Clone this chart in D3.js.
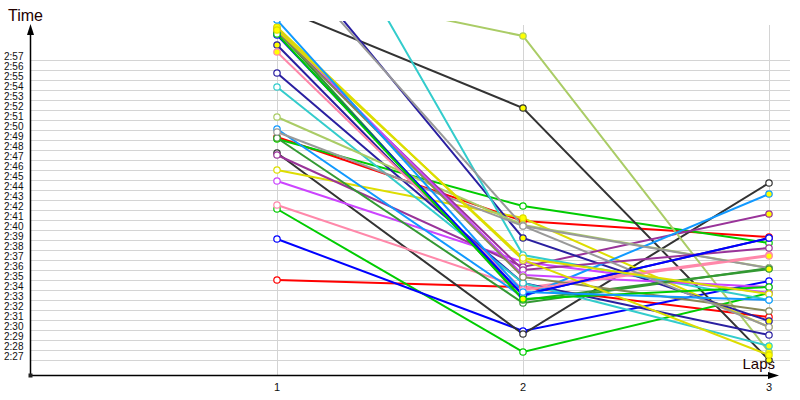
<!DOCTYPE html>
<html>
<head>
<meta charset="utf-8">
<script src="https://cdn.jsdelivr.net/npm/d3@7"></script>
<style>
  body { margin: 0; background: #fff; }
  svg { display: block; }
</style>
</head>
<body>
<svg id="chart" width="800" height="400"></svg>
<script>
// lap numbers on the x axis
const laps = [1, 2, 3];

// y tick labels, seconds (2:27 .. 2:57)
const tickSeconds = d3.range(147, 178);

// one colour per rider
const riderColors = [
    "#ff0000", "#ff0000", "#00cc00", "#00cc00", "#0000ff", "#333333", "#333333", "#cc44ff",
    "#ff88aa", "#dddd00", "#993399", "#339933", "#aacc66", "#2a1fa0", "#2a1fa0", "#33cccc",
    "#33cccc", "#aacc66", "#1199ff", "#999999", "#993399", "#cc44ff", "#339933", "#888855",
    "#2a1fa0", "#ff88aa", "#999999", "#dddd00", "#0000ff", "#00cc00", "#dddd00", "#1199ff"
];

// lap times in seconds, one value per rider
const lap1 = [155.0, 169.3, 162.1, 169.1, 159.1, 167.7, 182.3, 164.9,
              162.5, 166.0, 167.5, 169.2, 184.5, 189.0, 175.7, 174.3,
              200.3, 171.3, 170.1, 169.8, 179.8, 180.2, 180.0, 179.9,
              178.5, 177.8, 188.0, 180.3, 179.5, 179.6, 180.0, 181.0];
const lap2 = [154.3, 160.9, 147.8, 162.4, 149.9, 149.6, 172.2, 156.8,
              154.2, 161.2, 156.3, 152.7, 179.4, 159.2, 154.7, 154.7,
              157.5, 160.5, 153.3, 160.4, 156.0, 155.5, 153.0, 155.3,
              153.5, 154.0, 160.4, 157.0, 153.5, 153.1, 157.2, 153.8];
const lap3 = [151.3, 159.3, 153.7, 158.7, 154.9, 164.7, 147.0, 153.7,
              157.5, 150.3, 161.6, 156.2, 147.8, 150.9, 149.5, 148.4,
              153.0, 156.2, 163.6, 156.2, 158.2, 154.3, 156.1, 151.9,
              159.2, 157.4, 150.3, 147.5, 159.2, 154.3, 153.6, 153.0];

// markers drawn with a yellow fill: [rider, lap]
const yellowMarks = [[1, 2], [3, 1], [6, 2], [6, 3], [7, 3], [9, 2], [10, 3], [12, 2],
                     [12, 3], [13, 2], [13, 3], [15, 3], [18, 3], [22, 3], [24, 1], [25, 1],
                     [25, 3], [27, 1], [27, 3], [30, 1], [29, 2], [11, 3]];

const svg = d3.select("#chart");
const width = +svg.attr("width");
const height = +svg.attr("height");
const margin = {top: 25, right: 22, bottom: 25, left: 30};
const plotBottom = height - margin.bottom;

const x = d3.scaleLinear().domain([0, 3]).range([31, 769]);
const y = d3.scaleLinear().domain([147, 177]).range([360, 60]);

const fmt = s => Math.floor(s / 60) + ":" + d3.format("02")(Math.round(s % 60));

// horizontal grid
svg.append("g")
    .selectAll("line")
    .data(tickSeconds)
    .join("line")
    .attr("x1", margin.left).attr("x2", width - 10)
    .attr("y1", d => y(d) + 0.5).attr("y2", d => y(d) + 0.5)
    .attr("stroke", "#d4d4d4");

// vertical grid at each lap
svg.append("g")
    .selectAll("line")
    .data(laps)
    .join("line")
    .attr("x1", d => Math.round(x(d)) + 0.5).attr("x2", d => Math.round(x(d)) + 0.5)
    .attr("y1", margin.top).attr("y2", plotBottom)
    .attr("stroke", "#d4d4d4");

// y tick labels
svg.append("g")
    .selectAll("text")
    .data(tickSeconds)
    .join("text")
    .attr("x", 4)
    .attr("y", d => y(d))
    .attr("font-family", "Liberation Sans, Arial, sans-serif")
    .attr("font-size", 10)
    .attr("fill", "#111")
    .text(fmt);

// x tick labels
svg.append("g")
    .selectAll("text")
    .data(laps)
    .join("text")
    .attr("x", d => x(d))
    .attr("y", 391)
    .attr("text-anchor", "middle")
    .attr("font-family", "Liberation Sans, Arial, sans-serif")
    .attr("font-size", 11)
    .attr("fill", "#111")
    .text(d => d);

// axes with arrows
svg.append("line")
    .attr("x1", 30.5).attr("x2", 30.5)
    .attr("y1", plotBottom).attr("y2", 30)
    .attr("stroke", "#000").attr("stroke-width", 1.5);
svg.append("path")
    .attr("d", "M30.5,24 L27,35 L34,35 Z")
    .attr("fill", "#000");
svg.append("line")
    .attr("x1", 30).attr("x2", 772)
    .attr("y1", plotBottom + 0.5).attr("y2", plotBottom + 0.5)
    .attr("stroke", "#000").attr("stroke-width", 1.5);
svg.append("path")
    .attr("d", `M779,${plotBottom + 0.5} L768,${plotBottom - 3} L768,${plotBottom + 4} Z`)
    .attr("fill", "#000");
svg.append("rect")
    .attr("x", 28.5).attr("y", plotBottom - 1.5)
    .attr("width", 4).attr("height", 4)
    .attr("fill", "#222");

svg.append("text")
    .attr("x", 8).attr("y", 21)
    .attr("font-family", "Liberation Sans, Arial, sans-serif")
    .attr("font-size", 16)
    .attr("fill", "#200")
    .text("Time");
svg.append("text")
    .attr("x", 775).attr("y", 369)
    .attr("text-anchor", "end")
    .attr("font-family", "Liberation Sans, Arial, sans-serif")
    .attr("font-size", 15)
    .attr("fill", "#200")
    .text("Laps");

// series
const riders = riderColors.map((c, i) => ({
    color: c,
    values: [lap1[i], lap2[i], lap3[i]]
}));

svg.append("clipPath").attr("id", "plot")
    .append("rect")
    .attr("x", margin.left).attr("y", 21)
    .attr("width", width - margin.left).attr("height", plotBottom - 21);

const chart = svg.append("g").attr("clip-path", "url(#plot)");

const line = d3.line()
    .x((d, i) => x(laps[i]))
    .y(d => y(d));

chart.selectAll(".rider")
    .data(riders)
    .join("path")
    .attr("class", "rider")
    .attr("d", d => line(d.values))
    .attr("fill", "none")
    .attr("stroke", d => d.color)
    .attr("stroke-width", 2);

const isYellow = (r, l) => yellowMarks.some(m => m[0] === r && m[1] === l);

const points = [];
riders.forEach((r, i) => r.values.forEach((v, j) => {
    points.push({rider: i, lap: laps[j], value: v, color: r.color});
}));

chart.selectAll(".mark")
    .data(points)
    .join("circle")
    .attr("class", "mark")
    .attr("cx", d => x(d.lap))
    .attr("cy", d => y(d.value))
    .attr("r", 3.2)
    .attr("fill", d => isYellow(d.rider, d.lap) ? "#ffff00" : "#fff")
    .attr("stroke", d => d.color)
    .attr("stroke-width", 1.2);
</script>
</body>
</html>
